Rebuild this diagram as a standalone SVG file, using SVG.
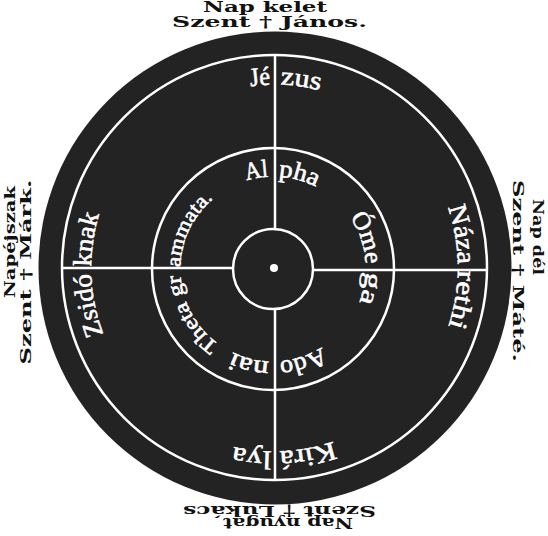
<svg xmlns="http://www.w3.org/2000/svg" xmlns:xlink="http://www.w3.org/1999/xlink" width="548" height="536" viewBox="0 0 548 536">
<style>
.lbl{font-family:"DejaVu Serif","Liberation Serif",serif;font-weight:bold;font-size:14px;fill:#111;text-anchor:middle}
.ring{font-family:"Liberation Serif",serif;fill:#fff;stroke:#fff;stroke-width:0.6}
.o{font-size:26px}
.i{font-size:25px}
.t{font-size:21px}
.ln{stroke:#fff;stroke-width:2.5;fill:none}
</style>
<defs>
<path id="po" d="M145.10,138.60 A183,183 0 1 1 403.90,397.40 A183,183 0 1 1 145.10,138.60"/>
<path id="pi" d="M227,189.33 A92,92 0 1 1 319,348.67 A92,92 0 1 1 227,189.33"/>
</defs>
<g id="disk">
<circle cx="275" cy="268" r="236.5" fill="#232323"/>
</g>
<g id="labels">
<text class="lbl" x="265" y="12" textLength="124" lengthAdjust="spacingAndGlyphs">Nap kelet</text>
<text class="lbl" x="269.5" y="26.5" textLength="195" lengthAdjust="spacingAndGlyphs">Szent † János.</text>
<text class="lbl" transform="translate(279.5,505.5) rotate(180)" textLength="193" lengthAdjust="spacingAndGlyphs">Szent † Lukács</text>
<text class="lbl" transform="translate(288,518) rotate(180)" textLength="130" lengthAdjust="spacingAndGlyphs">Nap nyugat</text>
<text class="lbl" transform="translate(15,242) rotate(-90)" textLength="112" lengthAdjust="spacingAndGlyphs">Napéjszak</text>
<text class="lbl" transform="translate(31,272) rotate(-90)" textLength="185" lengthAdjust="spacingAndGlyphs">Szent † Márk.</text>
<text class="lbl" transform="translate(533,237) rotate(90)" textLength="76" lengthAdjust="spacingAndGlyphs">Nap dél</text>
<text class="lbl" transform="translate(513,271) rotate(90)" textLength="182" lengthAdjust="spacingAndGlyphs">Szent † Máté.</text>
</g>
<g id="connectors">
<circle class="ln" cx="274.5" cy="267.5" r="212.5" stroke-width="3"/>
<circle class="ln" cx="273" cy="269" r="121" stroke-width="3"/>
<circle class="ln" cx="273" cy="269" r="40" stroke-width="3"/>
<line class="ln" x1="275" y1="55" x2="275" y2="229"/>
<line class="ln" x1="275" y1="309" x2="275" y2="480"/>
<line class="ln" x1="62" y1="268" x2="233" y2="268"/>
<line class="ln" x1="313" y1="270" x2="487" y2="270"/>
<circle cx="274" cy="268" r="4" fill="#fff"/>
</g>
<g id="outer-ring" class="ring o">
<text><textPath xlink:href="#po" startOffset="139.7" text-anchor="end" textLength="20" lengthAdjust="spacingAndGlyphs">Jé</textPath></text>
<text><textPath xlink:href="#po" startOffset="149.7" textLength="40" lengthAdjust="spacingAndGlyphs">zus</textPath></text>
<text><textPath xlink:href="#po" startOffset="428.2" text-anchor="end" textLength="58" lengthAdjust="spacingAndGlyphs">Náza</textPath></text>
<text><textPath xlink:href="#po" startOffset="434.2" textLength="57" lengthAdjust="spacingAndGlyphs">rethi</textPath></text>
<text><textPath xlink:href="#po" startOffset="714.6" text-anchor="end" textLength="55" lengthAdjust="spacingAndGlyphs">Kirá</textPath></text>
<text><textPath xlink:href="#po" startOffset="722.6" textLength="38" lengthAdjust="spacingAndGlyphs">lya</textPath></text>
<text><textPath xlink:href="#po" startOffset="1002.1" text-anchor="end" textLength="62" lengthAdjust="spacingAndGlyphs">Zsidó</textPath></text>
<text><textPath xlink:href="#po" startOffset="1009.1" textLength="53" lengthAdjust="spacingAndGlyphs">knak</textPath></text>
</g>
<g id="inner-ring" class="ring i">
<text><textPath xlink:href="#pi" startOffset="43.6" text-anchor="end" textLength="22" lengthAdjust="spacingAndGlyphs">Al</textPath></text>
<text><textPath xlink:href="#pi" startOffset="53.7" textLength="39" lengthAdjust="spacingAndGlyphs">pha</textPath></text>
<text><textPath xlink:href="#pi" startOffset="188.7" text-anchor="end" textLength="50" lengthAdjust="spacingAndGlyphs">Óme</textPath></text>
<text><textPath xlink:href="#pi" startOffset="196.7" textLength="31" lengthAdjust="spacingAndGlyphs">ga</textPath></text>
<text><textPath xlink:href="#pi" startOffset="332.2" text-anchor="end" textLength="45" lengthAdjust="spacingAndGlyphs">Ado</textPath></text>
<text><textPath xlink:href="#pi" startOffset="342.2" textLength="38" lengthAdjust="spacingAndGlyphs">nai</textPath></text>
<text class="t"><textPath xlink:href="#pi" startOffset="477.7" text-anchor="end" textLength="82" lengthAdjust="spacingAndGlyphs">Theta gr</textPath></text>
<text class="t"><textPath xlink:href="#pi" startOffset="485.7" textLength="78" lengthAdjust="spacingAndGlyphs">ammata.</textPath></text>
</g>
</svg>
